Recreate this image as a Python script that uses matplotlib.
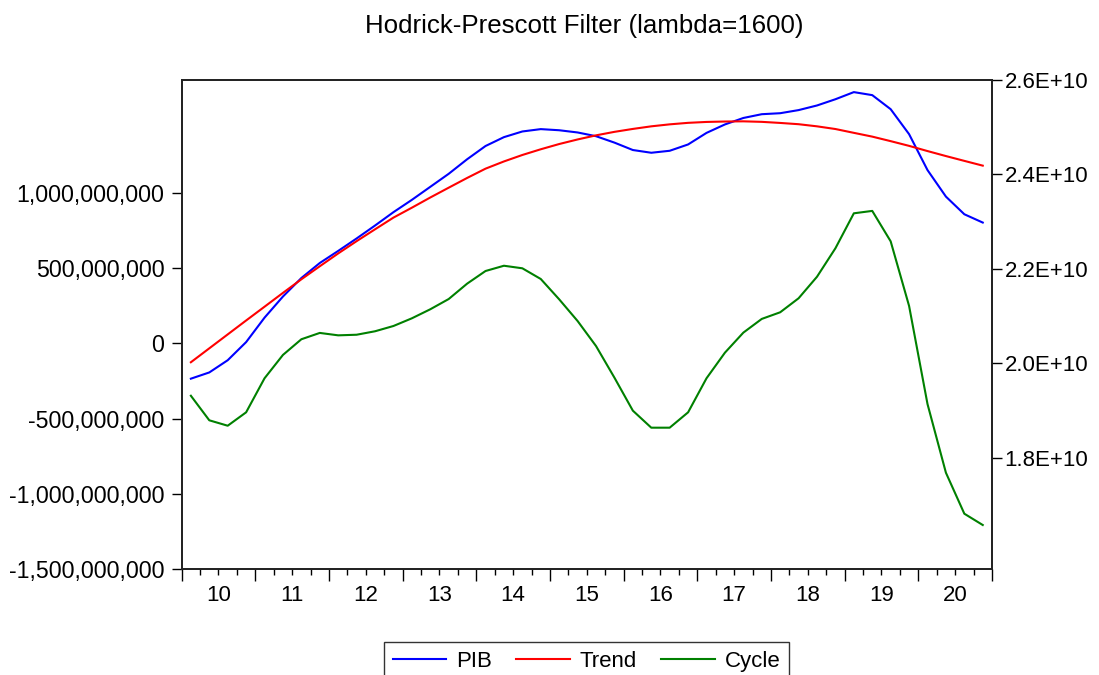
import numpy as np
import matplotlib.pyplot as plt
from matplotlib.ticker import FuncFormatter, NullLocator

plt.rcParams['font.family'] = ['Liberation Sans', 'DejaVu Sans']

# quarterly data 2010Q1 - 2020Q4
years = [str(y) for y in range(10, 21)]

pib = [1.9671, 1.9803, 2.0062, 2.0446, 2.0964, 2.1412, 2.1804, 2.2122,
       2.2378, 2.2642, 2.2916, 2.3199, 2.3460, 2.3736, 2.4012, 2.4320,
       2.4601, 2.4789, 2.4909, 2.4959, 2.4935, 2.4888, 2.4809, 2.4673,
       2.4516, 2.4458, 2.4500, 2.4634, 2.4879, 2.5058, 2.5195, 2.5275,
       2.5296, 2.5362, 2.5460, 2.5592, 2.5743, 2.5679, 2.5381, 2.4852,
       2.4091, 2.3529, 2.3155, 2.2979]
trend = [2.0019, 2.0314, 2.0609, 2.0904, 2.1196, 2.1489, 2.1777, 2.2053,
         2.2325, 2.2585, 2.2836, 2.3084, 2.3294, 2.3510, 2.3718, 2.3924,
         2.4121, 2.4274, 2.4411, 2.4532, 2.4643, 2.4740, 2.4827, 2.4901,
         2.4963, 2.5018, 2.5060, 2.5092, 2.5111, 2.5120, 2.5124, 2.5113,
         2.5090, 2.5063, 2.5018, 2.4961, 2.4880, 2.4800, 2.4704, 2.4604,
         2.4494, 2.4388, 2.4286, 2.4185]
cycle = [-0.348, -0.511, -0.547, -0.458, -0.232, -0.077, 0.027, 0.069,
         0.053, 0.057, 0.080, 0.115, 0.166, 0.226, 0.294, 0.396,
         0.480, 0.515, 0.498, 0.427, 0.292, 0.148, -0.018, -0.228,
         -0.447, -0.560, -0.560, -0.458, -0.232, -0.062, 0.071, 0.162,
         0.206, 0.299, 0.442, 0.631, 0.863, 0.879, 0.677, 0.248,
         -0.403, -0.859, -1.131, -1.206]

pib = np.array(pib) * 1e10
trend = np.array(trend) * 1e10
cycle = np.array(cycle) * 1e9
q = np.arange(len(pib))

fig = plt.figure(figsize=(10.99, 6.75), dpi=100)
ax = fig.add_axes([0.1653, 0.1566, 0.7373, 0.7249])
ax2 = ax.twinx()

l3, = ax.plot(q, cycle, color='#008000', lw=1.5)
l1, = ax2.plot(q, pib, color='#0000ff', lw=1.5)
l2, = ax2.plot(q, trend, color='#ff0000', lw=1.5)

ax.set_xlim(-0.5, len(q) - 0.5)
ax.set_ylim(-1.5e9, 1.748e9)
ax2.set_ylim(1.5632e10, 2.6e10)

ax.set_yticks(np.arange(-1.5e9, 1.01e9, 5e8))
ax.yaxis.set_major_formatter(FuncFormatter(lambda v, p: f"{v:,.0f}"))
ax2.set_yticks(np.arange(1.8e10, 2.61e10, 0.2e10))
ax2.yaxis.set_major_formatter(FuncFormatter(lambda v, p: f"{v:.1E}"))

ax.set_xticks(np.arange(-0.5, len(q), 4))
ax.set_xticks(np.arange(-0.5, len(q), 1), minor=True)
ax.tick_params(axis='x', which='major', length=8.5, width=1, labelbottom=False)
ax.tick_params(axis='x', which='minor', length=4.5, width=1)
ax.tick_params(axis='y', length=7.5, width=1, pad=5, labelsize=16.7)
ax2.tick_params(axis='y', length=7.5, width=1, pad=1.5, labelsize=16)

sec = ax.secondary_xaxis('bottom')
sec.set_xticks(np.arange(1.5, len(q), 4), years)
sec.xaxis.set_minor_locator(NullLocator())
sec.tick_params(length=0, pad=11, labelsize=16)
sec.spines['bottom'].set_visible(False)

for a in (ax, ax2):
    for s in a.spines.values():
        s.set_linewidth(1.3)
        s.set_color('#222222')

fig.text(0.532, 1 - 33 / 675, 'Hodrick-Prescott Filter (lambda=1600)',
         ha='center', va='baseline', fontsize=18.6)

fig.legend([l1, l2, l3], ['PIB', 'Trend', 'Cycle'], loc='upper center',
           bbox_to_anchor=(0.5337, 1 - 642 / 675), ncol=3, fontsize=16,
           frameon=True, fancybox=False, edgecolor='#333333', framealpha=1,
           handlelength=2.4, handletextpad=0.45, columnspacing=1.1,
           borderpad=0.4, borderaxespad=0)

fig.savefig('out.png', dpi=100)
